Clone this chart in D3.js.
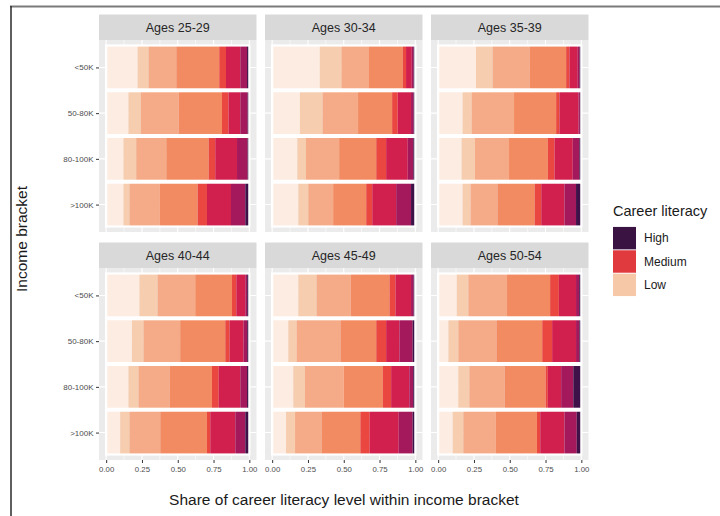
<!DOCTYPE html>
<html>
<head>
<meta charset="utf-8">
<script src="https://cdn.jsdelivr.net/npm/d3@7"></script>
<style>
  html, body { margin: 0; padding: 0; background: #ffffff; }
  svg { display: block; font-family: "Liberation Sans", Arial, sans-serif; }
</style>
</head>
<body>
<script>
// Facets, categories and stacked levels
const ageGroups = ["Ages 25-29", "Ages 30-34", "Ages 35-39", "Ages 40-44", "Ages 45-49", "Ages 50-54"];
const brackets = ["<50K", "50-80K", "80-100K", ">100K"];
const levelKeys = ["l1", "l2", "l3", "l4", "l5", "l6", "l7", "l8"];
const levelColors = ["#fdece1", "#f7cdaf", "#f5ab87", "#f28b62", "#e9473f", "#d11f4e", "#a4185c", "#3e1248"];
const legendLabels = ["High", "Medium", "Low"];
const legendColors = ["#3a1343", "#e0393e", "#f6c8a8"];
const xTicks = [0, 0.25, 0.5, 0.75, 1];

// Share of each career literacy level (low -> high), one row per income bracket
const shares25_29 = [
  [0.220, 0.076, 0.194, 0.300, 0.047, 0.100, 0.047, 0.016],
  [0.156, 0.086, 0.264, 0.303, 0.046, 0.082, 0.051, 0.012],
  [0.121, 0.089, 0.210, 0.296, 0.046, 0.152, 0.074, 0.012],
  [0.121, 0.042, 0.210, 0.266, 0.065, 0.168, 0.100, 0.028]
];
const shares30_34 = [
  [0.333, 0.151, 0.192, 0.236, 0.023, 0.040, 0.013, 0.012],
  [0.194, 0.158, 0.248, 0.238, 0.039, 0.093, 0.018, 0.012],
  [0.176, 0.060, 0.232, 0.259, 0.069, 0.151, 0.039, 0.014],
  [0.183, 0.069, 0.174, 0.231, 0.042, 0.167, 0.104, 0.030]
];
const shares35_39 = [
  [0.264, 0.116, 0.259, 0.255, 0.023, 0.058, 0.013, 0.012],
  [0.171, 0.063, 0.296, 0.294, 0.023, 0.133, 0.010, 0.010],
  [0.164, 0.093, 0.238, 0.271, 0.047, 0.127, 0.046, 0.014],
  [0.171, 0.056, 0.187, 0.260, 0.046, 0.162, 0.081, 0.037]
];
const shares40_44 = [
  [0.233, 0.126, 0.263, 0.257, 0.030, 0.063, 0.013, 0.015],
  [0.180, 0.081, 0.256, 0.315, 0.030, 0.098, 0.025, 0.015],
  [0.156, 0.070, 0.217, 0.296, 0.047, 0.151, 0.047, 0.016],
  [0.098, 0.065, 0.215, 0.326, 0.023, 0.175, 0.070, 0.028]
];
const shares45_49 = [
  [0.183, 0.127, 0.239, 0.271, 0.041, 0.109, 0.018, 0.012],
  [0.113, 0.058, 0.306, 0.250, 0.069, 0.093, 0.092, 0.019],
  [0.148, 0.081, 0.271, 0.273, 0.058, 0.127, 0.027, 0.015],
  [0.097, 0.063, 0.185, 0.271, 0.065, 0.203, 0.097, 0.019]
];
const shares50_54 = [
  [0.130, 0.081, 0.270, 0.301, 0.061, 0.120, 0.022, 0.015],
  [0.072, 0.069, 0.266, 0.320, 0.069, 0.167, 0.023, 0.014],
  [0.141, 0.077, 0.247, 0.285, 0.016, 0.093, 0.085, 0.056],
  [0.102, 0.074, 0.227, 0.287, 0.023, 0.169, 0.086, 0.032]
];
const allShares = [shares25_29, shares30_34, shares35_39, shares40_44, shares45_49, shares50_54];

// Layout
const W = 720, H = 516;
const panelW = 157.5, panelH = 192, stripH = 25.5;
const colLeft = [99, 265, 431];
const rowTop = [40, 268];

const svg = d3.select("body").append("svg").attr("width", W).attr("height", H);
svg.append("rect").attr("width", W).attr("height", H).attr("fill", "#ffffff");

// frame lines
svg.append("line").attr("x1", 10).attr("x2", W).attr("y1", 6.5).attr("y2", 6.5)
  .attr("stroke", "#7a7a7a").attr("stroke-width", 2);
svg.append("line").attr("x1", 11).attr("x2", 11).attr("y1", 6).attr("y2", H)
  .attr("stroke", "#2a2a2a").attr("stroke-width", 1.5);

const stack = d3.stack().keys(levelKeys);
const color = d3.scaleOrdinal().domain(levelKeys).range(levelColors);

ageGroups.forEach((age, i) => {
  const col = i % 3, row = Math.floor(i / 3);
  const px = colLeft[col], py = rowTop[row];
  const g = svg.append("g");

  const x = d3.scaleLinear().domain([-0.05, 1.05]).range([px, px + panelW]);
  const y = d3.scalePoint().domain(brackets).range([py, py + panelH]).padding(0.6);
  const step = y.step();
  const barH = step * 0.96;

  // strip
  g.append("rect").attr("x", px).attr("y", py - stripH).attr("width", panelW).attr("height", stripH)
    .attr("fill", "#d9d9d9");
  g.append("text").attr("x", px + panelW / 2).attr("y", py - stripH / 2).attr("dy", "0.36em")
    .attr("text-anchor", "middle").attr("font-size", 12.5).attr("fill", "#262626").text(age);

  // panel background and grid
  g.append("rect").attr("x", px).attr("y", py).attr("width", panelW).attr("height", panelH)
    .attr("fill", "#ebebeb");
  const minor = [0.125, 0.375, 0.625, 0.875];
  g.selectAll(".minor").data(minor).join("line")
    .attr("x1", d => x(d)).attr("x2", d => x(d)).attr("y1", py).attr("y2", py + panelH)
    .attr("stroke", "#ffffff").attr("stroke-width", 0.6);
  g.selectAll(".major").data(xTicks).join("line")
    .attr("x1", d => x(d)).attr("x2", d => x(d)).attr("y1", py).attr("y2", py + panelH)
    .attr("stroke", "#ffffff").attr("stroke-width", 1.1);
  g.selectAll(".hmajor").data(brackets).join("line")
    .attr("x1", px).attr("x2", px + panelW).attr("y1", d => y(d)).attr("y2", d => y(d))
    .attr("stroke", "#ffffff").attr("stroke-width", 1.1);

  // stacked bars
  const rows = allShares[i].map((vals, k) => {
    const o = { bracket: brackets[k] };
    levelKeys.forEach((key, j) => { o[key] = vals[j]; });
    return o;
  });
  const series = stack(rows);
  series.forEach(s => {
    g.append("g").attr("fill", color(s.key))
      .selectAll("rect").data(s).join("rect")
      .attr("x", d => x(d[0]))
      .attr("width", d => Math.max(0, x(d[1]) - x(d[0])))
      .attr("y", d => y(d.data.bracket) - barH / 2)
      .attr("height", barH);
  });
  // white outline around each full bar
  g.selectAll(".outline").data(rows).join("rect")
    .attr("x", x(0))
    .attr("width", x(1) - x(0))
    .attr("y", d => y(d.bracket) - barH / 2)
    .attr("height", barH)
    .attr("fill", "none").attr("stroke", "#ffffff").attr("stroke-width", 2.2);

  // axes
  if (col === 0) {
    const ay = g.append("g").attr("transform", `translate(${px},0)`)
      .call(d3.axisLeft(y).tickSize(3).tickPadding(2.5));
    ay.select(".domain").remove();
    ay.selectAll(".tick line").attr("stroke", "#333333");
    ay.selectAll(".tick text").attr("font-size", 8).attr("fill", "#4d4d4d")
      .attr("font-family", "Liberation Sans, Arial, sans-serif");
  }
  if (row === 1) {
    const ax = g.append("g").attr("transform", `translate(0,${py + panelH})`)
      .call(d3.axisBottom(x).tickValues(xTicks).tickFormat(d3.format(".2f")).tickSize(3).tickPadding(3));
    ax.select(".domain").remove();
    ax.selectAll(".tick line").attr("stroke", "#333333");
    ax.selectAll(".tick text").attr("font-size", 7.8).attr("fill", "#4d4d4d")
      .attr("font-family", "Liberation Sans, Arial, sans-serif");
  }
});

// axis titles
svg.append("text").attr("x", 344).attr("y", 505).attr("text-anchor", "middle")
  .attr("font-size", 15.5).attr("fill", "#1a1a1a")
  .text("Share of career literacy level within income bracket");
svg.append("text").attr("transform", "translate(27,239) rotate(-90)")
  .attr("text-anchor", "middle").attr("font-size", 15.5).attr("fill", "#1a1a1a")
  .text("Income bracket");

// legend
const lg = svg.append("g").attr("transform", "translate(613,0)");
lg.append("text").attr("x", 0).attr("y", 216).attr("font-size", 14.5).attr("fill", "#1a1a1a")
  .text("Career literacy");
const keyY = d3.scaleBand().domain(legendLabels).range([226, 297]).padding(0.04);
lg.selectAll(".key").data(legendLabels).join("rect")
  .attr("x", 0).attr("y", d => keyY(d)).attr("width", 23).attr("height", keyY.bandwidth())
  .attr("fill", (d, k) => legendColors[k]);
lg.selectAll(".lab").data(legendLabels).join("text")
  .attr("x", 31).attr("y", d => keyY(d) + keyY.bandwidth() / 2).attr("dy", "0.36em")
  .attr("font-size", 12).attr("fill", "#1a1a1a").text(d => d);
</script>
</body>
</html>
